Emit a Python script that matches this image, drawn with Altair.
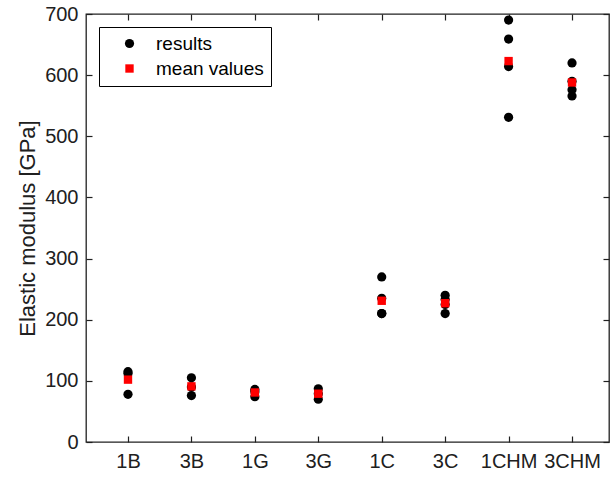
import altair as alt
import pandas as pd

categories = ["1B", "3B", "1G", "3G", "1C", "3C", "1CHM", "3CHM"]
results = [
    [115, 112, 78],
    [105, 90, 76],
    [86, 82, 74],
    [87, 79, 70],
    [270, 235, 210, 210],
    [240, 233, 225, 210],
    [690, 659, 614, 531],
    [620, 590, 576, 566],
]
means = [102, 91, 81, 79, 231, 227, 623, 588]
series_names = ["results", "mean values"]
y_ticks = [0, 100, 200, 300, 400, 500, 600, 700]

rows = []
for i, (cat, vals) in enumerate(zip(categories, results)):
    for v in vals:
        rows.append({"pos": i + 1, "cat": cat, "value": v, "series": "results"})
for i, (cat, m) in enumerate(zip(categories, means)):
    rows.append({"pos": i + 1, "cat": cat, "value": m, "series": "mean values"})
df = pd.DataFrame(rows)

FONT = "Liberation Sans"
AX = "#202020"
label_expr = "[" + ",".join(f"'{c}'" for c in categories) + "][datum.value - 1]"

xscale = alt.Scale(domain=[0.338, 8.583], nice=False, zero=False)
yscale = alt.Scale(domain=[0, 700], nice=False)

main = alt.Chart(df).mark_point(filled=True, opacity=1, strokeWidth=0).encode(
    x=alt.X("pos:Q", scale=xscale,
            axis=alt.Axis(orient="bottom", values=list(range(1, 9)), labelExpr=label_expr,
                          title=None, grid=False, domain=False, offset=-6, tickSize=6,
                          tickColor=AX, tickWidth=1.2, labelPadding=9, labelFontSize=20,
                          labelFont=FONT, labelColor=AX)),
    y=alt.Y("value:Q", scale=yscale,
            axis=alt.Axis(orient="left", values=y_ticks, title="Elastic modulus [GPa]",
                          grid=False, domain=False, offset=-6, tickSize=6, tickColor=AX,
                          tickWidth=1.2, labelPadding=8, labelFontSize=20, labelFont=FONT,
                          labelColor=AX, titleFont=FONT, titleFontSize=22,
                          titleFontWeight="normal", titleColor=AX, titleX=-65, titleY=214,
                          titleAngle=-90, titleAlign="center", titleBaseline="middle")),
    color=alt.Color("series:N", scale=alt.Scale(domain=series_names, range=["black", "red"]),
                    legend=alt.Legend(title=None, orient="top-left", offset=13)),
    shape=alt.Shape("series:N", scale=alt.Scale(domain=series_names, range=["circle", "square"])),
    size=alt.Size("series:N", scale=alt.Scale(domain=series_names, range=[85, 70])),
    order=alt.Order("series:N", sort="descending"),
)

frame = alt.Chart(df).mark_point(opacity=0).encode(
    x=alt.X("pos:Q", scale=xscale,
            axis=alt.Axis(orient="top", values=list(range(1, 9)), labels=False, title=None,
                          grid=False, domain=False, offset=-6, tickSize=6, tickColor=AX,
                          tickWidth=1.2)),
    y=alt.Y("value:Q", scale=yscale,
            axis=alt.Axis(orient="right", values=y_ticks, labels=False, title=None,
                          grid=False, domain=False, offset=-6, tickSize=6, tickColor=AX,
                          tickWidth=1.2)),
)

chart = alt.layer(main, frame).resolve_axis(x="independent", y="independent").properties(
    width=523, height=428,
    autosize=alt.AutoSizeParams(type="none"),
    padding={"left": 86, "top": 14, "right": 4, "bottom": 37},
).configure_view(stroke=AX, strokeWidth=1.3).configure_legend(
    strokeColor="black", strokeWidth=1, fillColor="white", padding=7, cornerRadius=0,
    labelFont=FONT, labelFontSize=19, labelColor="black", rowPadding=5,
    symbolOffset=14, labelOffset=17, symbolStrokeWidth=0,
)

chart.save("out.html", embed_options={"renderer": "svg", "actions": False})
